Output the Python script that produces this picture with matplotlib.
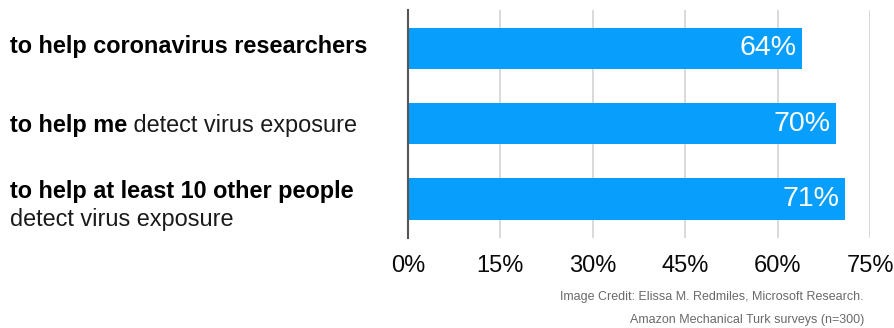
import matplotlib
matplotlib.use("Agg")
import matplotlib.pyplot as plt
from matplotlib.transforms import blended_transform_factory

plt.rcParams['font.family'] = ['Liberation Sans', 'DejaVu Sans']

bold_parts = ["to help coronavirus researchers", "to help me", "to help at least 10 other people"]
normal_parts = ["", " detect virus exposure", "detect virus exposure"]
values = [64, 69.5, 71]
value_labels = ["64%", "70%", "71%"]
ticks = [0, 15, 30, 45, 60, 75]
tick_labels = ["0%", "15%", "30%", "45%", "60%", "75%"]
credit_lines = ["Image Credit: Elissa M. Redmiles, Microsoft Research.",
                "Amazon Mechanical Turk surveys (n=300)"]

W, H = 894, 328
fig = plt.figure(figsize=(W / 100, H / 100), dpi=100)
ax = fig.add_axes([408 / W, 1 - 238 / H, (870 - 408) / W, (238 - 10) / H])

ypos = list(range(len(values)))
bars = ax.barh(ypos, values, height=0.55, color="#079FFB", zorder=3)
ax.set_xlim(0, 75)
ax.set_ylim(2.52, -0.51)
ax.set_xticks(ticks)
ax.set_xticklabels(tick_labels, fontsize=17, color="#0a0a0a")
ax.tick_params(axis='x', length=0, pad=12)
ax.set_yticks([])
ax.grid(axis='x', color="#D3D3D3", linewidth=1.2, zorder=0)
for s in ['top', 'right', 'bottom']:
    ax.spines[s].set_visible(False)
ax.spines['left'].set_color("#555555")
ax.spines['left'].set_linewidth(1.5)
ax.spines['left'].set_zorder(4)

for b, lab in zip(bars, value_labels):
    ax.annotate(lab, xy=(b.get_width(), b.get_y() + b.get_height() / 2),
                xytext=(-4, 0), textcoords='offset points',
                ha='right', va='center', color='white', fontsize=20.5, zorder=5)

tr = blended_transform_factory(fig.transFigure, ax.transData)
x0 = 10 / W
fs = 16.9
fig.text(x0, -0.02, bold_parts[0], transform=tr, fontsize=fs, fontweight='bold',
         color="#000000", ha='left', va='center')
t2 = fig.text(x0, 1.02, bold_parts[1], transform=tr, fontsize=fs, fontweight='bold',
              color="#000000", ha='left', va='center')
fig.canvas.draw()
ax.annotate(normal_parts[1], xy=(1, 0), xycoords=t2, ha='left', va='bottom',
            fontsize=fs, color="#1a1a1a", annotation_clip=False)
fig.text(x0, 1.905, bold_parts[2], transform=tr, fontsize=fs, fontweight='bold',
         color="#000000", ha='left', va='center')
fig.text(x0, 2.28, normal_parts[2], transform=tr, fontsize=fs,
         color="#1a1a1a", ha='left', va='center')

fig.text(864 / W, 1 - 297 / H, credit_lines[0], fontsize=9, color="#6a6a6a",
         ha='right', va='center')
fig.text(864 / W, 1 - 320 / H, credit_lines[1], fontsize=9, color="#6a6a6a",
         ha='right', va='center')

fig.savefig("out.png", dpi=100)
